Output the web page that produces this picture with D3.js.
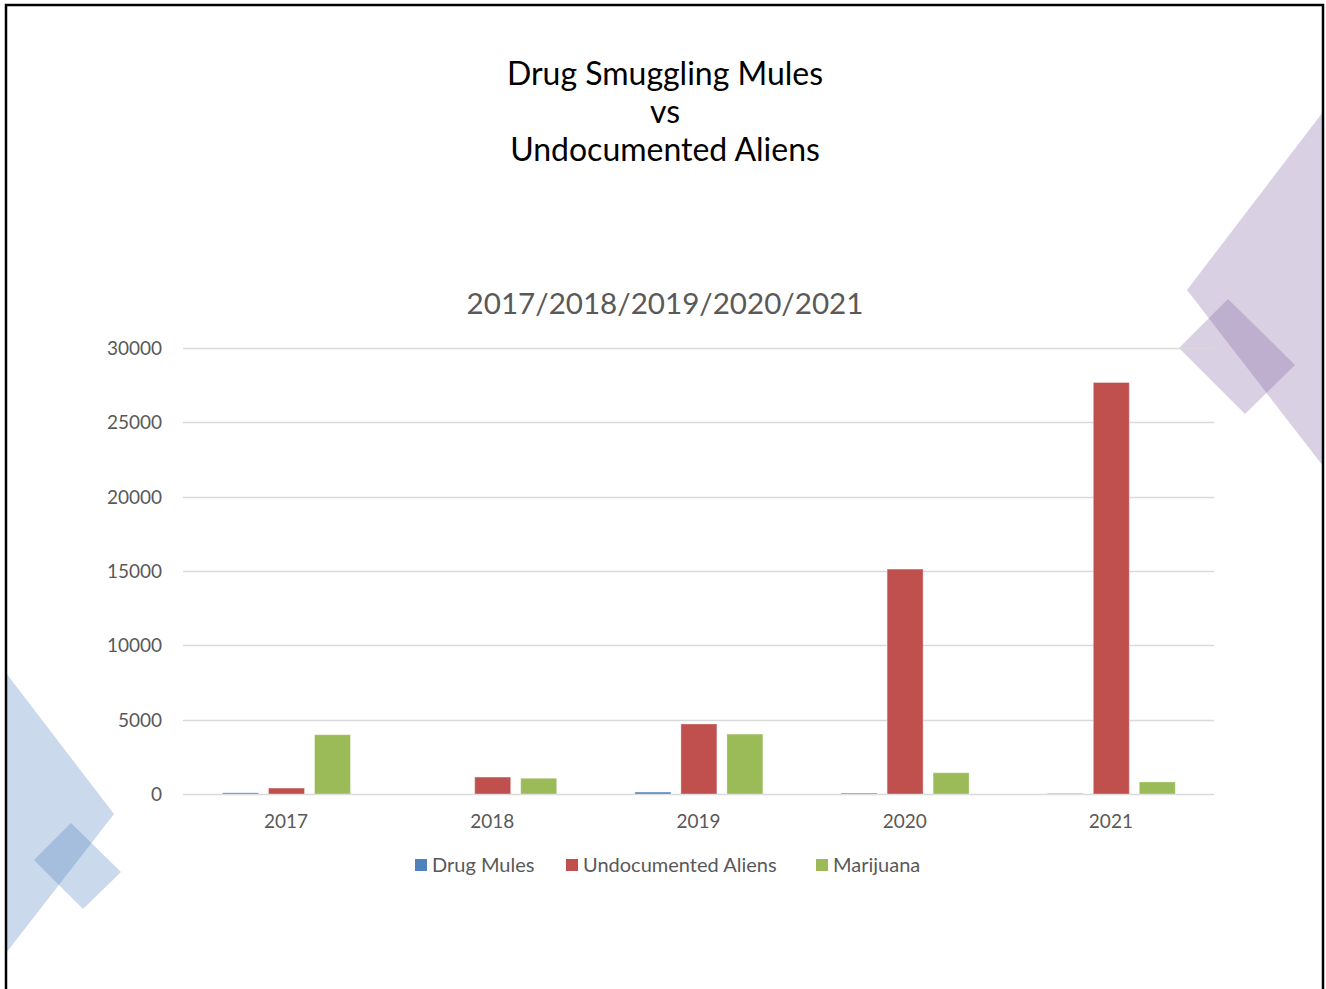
<!DOCTYPE html>
<html>
<head>
<meta charset="utf-8">
<script src="https://cdn.jsdelivr.net/npm/d3@7"></script>
<style>
  html, body { margin: 0; padding: 0; background: #fff; }
  svg { display: block; }
</style>
</head>
<body>
<svg id="chart" width="1326" height="989"></svg>
<script>
// Years on the category axis
const years = ["2017", "2018", "2019", "2020", "2021"];
// Series names
const seriesNames = ["Drug Mules", "Undocumented Aliens", "Marijuana"];
// Values per series, one per year
const drugMules = [80, 0, 130, 60, 30];
const undocumentedAliens = [400, 1140, 4710, 15130, 27680];
const marijuana = [3990, 1060, 4030, 1430, 810];
// Y axis tick values
const yTicks = [0, 5000, 10000, 15000, 20000, 25000, 30000];

const seriesValues = [drugMules, undocumentedAliens, marijuana];
const colors = ["#4f81bd", "#c0504d", "#9bbb59"];

const svg = d3.select("#chart");
const font = "Lato, 'Open Sans', sans-serif";

// Slide decorations
const deco = svg.append("g");
deco.append("polygon").attr("points", "1323,112 1187,290 1323,466").attr("fill", "#8064a2").attr("fill-opacity", 0.3);
deco.append("polygon").attr("points", "1228,299 1295,365 1245,414 1179,348").attr("fill", "#8064a2").attr("fill-opacity", 0.3);
deco.append("polygon").attr("points", "6,673 114,814 6,953").attr("fill", "#4f81bd").attr("fill-opacity", 0.3);
deco.append("polygon").attr("points", "71,823 121,872 83,909 34,860").attr("fill", "#4f81bd").attr("fill-opacity", 0.3);

// Slide frame
svg.append("path")
  .attr("d", "M6,995 L6,5 L1323,5 L1323,995")
  .attr("fill", "none").attr("stroke", "#000").attr("stroke-width", 2.5);

// Title
const title = svg.append("text").attr("text-anchor", "middle").attr("font-family", font)
  .attr("font-size", 32).attr("fill", "#000");
["Drug Smuggling Mules", "vs", "Undocumented Aliens"].forEach((t, i) => {
  title.append("tspan").attr("x", 665).attr("y", 85 + i * 38).text(t);
});

// Chart subtitle
svg.append("text").attr("x", 665).attr("y", 314).attr("text-anchor", "middle")
  .attr("font-family", font).attr("font-size", 29.6).attr("fill", "#595959")
  .text("2017/2018/2019/2020/2021");

const x0 = d3.scaleBand().domain(years).range([183, 1214]);
const x1 = d3.scaleBand().domain(seriesNames).range([34.5, 172.5])
  .paddingInner(10 / 46).paddingOuter(5 / 46);
const y = d3.scaleLinear().domain([0, 30000]).range([794, 348]);

// Gridlines
svg.append("g").selectAll("line").data(yTicks).join("line")
  .attr("x1", 183).attr("x2", 1214)
  .attr("y1", d => Math.round(y(d)) + 0.5).attr("y2", d => Math.round(y(d)) + 0.5)
  .attr("stroke", "#d9d9d9").attr("stroke-width", 1.3);

// Y axis labels
const yAxis = d3.axisLeft(y).tickValues(yTicks).tickSize(0).tickPadding(0).tickFormat(d3.format("d"));
const yg = svg.append("g").attr("transform", "translate(162,0)").call(yAxis);
yg.select(".domain").remove();
yg.selectAll("text").attr("font-family", font).attr("font-size", 19).attr("fill", "#595959").attr("dy", "0.35em");

// X axis labels
const xAxis = d3.axisBottom(x0).tickSize(0).tickPadding(21);
const xg = svg.append("g").attr("transform", "translate(0,794)").call(xAxis);
xg.select(".domain").remove();
xg.selectAll("text").attr("font-family", font).attr("font-size", 19).attr("fill", "#595959");

// Bars
const groups = svg.append("g").selectAll("g").data(years).join("g")
  .attr("transform", d => `translate(${x0(d)},0)`);
groups.selectAll("rect")
  .data((d, i) => seriesNames.map((s, k) => ({ s, k, v: seriesValues[k][i] })))
  .join("rect")
  .attr("x", d => x1(d.s))
  .attr("width", x1.bandwidth())
  .attr("y", d => y(d.v))
  .attr("height", d => y(0) - y(d.v))
  .attr("fill", d => colors[d.k])
  .attr("stroke", "#fff").attr("stroke-opacity", 0.35).attr("stroke-width", 1);

// Legend
const legendX = [415, 566, 816];
const legend = svg.append("g").selectAll("g").data(seriesNames).join("g")
  .attr("transform", (d, i) => `translate(${legendX[i]},859)`);
legend.append("rect").attr("width", 12).attr("height", 12).attr("fill", (d, i) => colors[i]);
legend.append("text").attr("x", 17).attr("y", 13).attr("font-family", font)
  .attr("font-size", 20).attr("fill", "#595959").text(d => d);
</script>
</body>
</html>
